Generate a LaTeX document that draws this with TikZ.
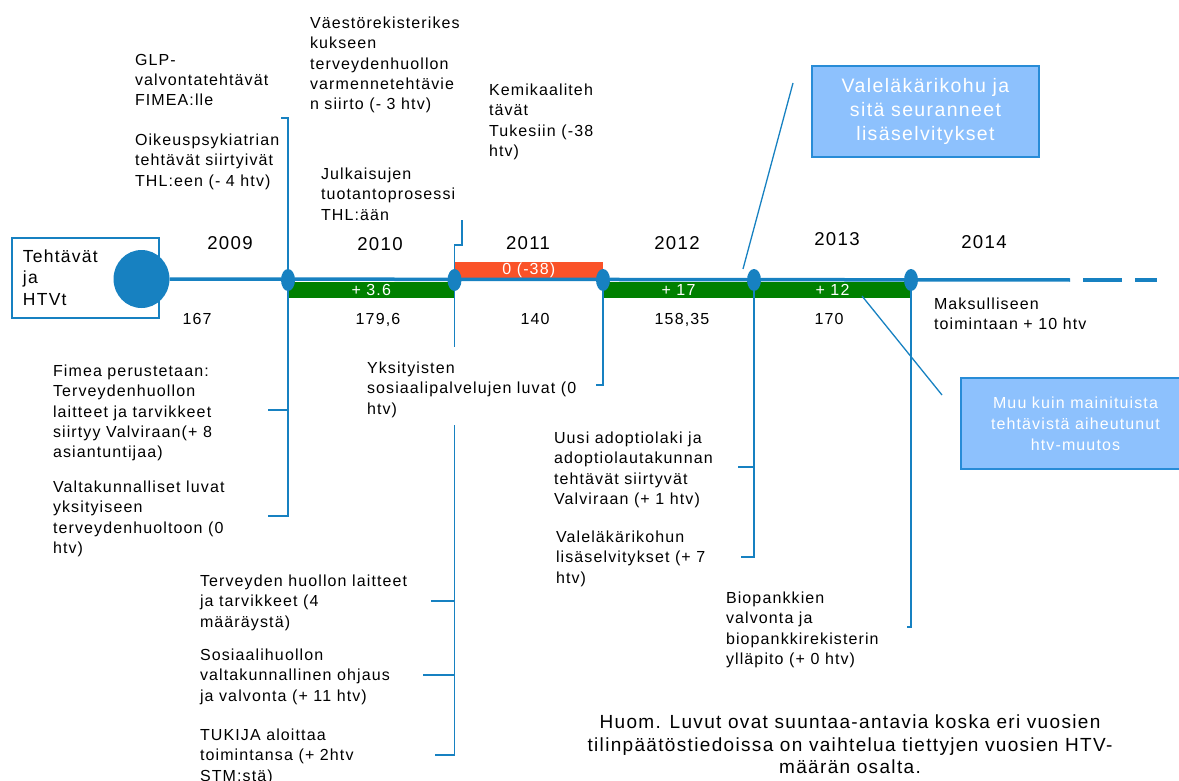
\documentclass[tikz,border=0pt]{standalone}
\usepackage{fontspec}
\setmainfont{Liberation Sans}[LetterSpace=7]
\usetikzlibrary{shapes.geometric}
\definecolor{tlblue}{RGB}{23,129,193}
\definecolor{boxfill}{RGB}{141,193,253}
\definecolor{boxline}{RGB}{40,140,215}
\definecolor{bargreen}{RGB}{0,128,0}
\definecolor{barred}{RGB}{250,82,40}
\newcommand\fsz[2]{\fontsize{#1}{#2}\selectfont}
\begin{document}
\begin{tikzpicture}[x=1pt,y=-1pt,
  lbl/.style={anchor=north west, align=left, inner sep=0, outer sep=0, font=\fsz{16}{20.3}},
  yr/.style={anchor=base, inner sep=0, font=\fsz{18.6}{22}},
  val/.style={anchor=base, inner sep=0, font=\fsz{16}{20}},
  conn/.style={draw=tlblue, line width=1.8},
  tl/.style={draw=tlblue, line width=3.5},
  dotn/.style={ellipse, fill=tlblue, minimum width=14, minimum height=22, inner sep=0},
  barn/.style={minimum height=16, inner sep=0, text=white, font=\fsz{16}{16}},
  callout/.style={draw=boxline, line width=1.5, fill=boxfill, text=white, align=center, inner sep=0}
]
\useasboundingbox (0,0) rectangle (1179,781);

% left box
\node[draw=tlblue, line width=2, minimum width=147, minimum height=80, anchor=north west, inner sep=0] (hbox) at (11,237) {};
\node[lbl, font=\fsz{17.5}{21.5}] (htext) at (23,249.5) {Tehtävät\\ja\\HTVt};

% bars
\node[barn, fill=bargreen, minimum width=166.5] (g1) at (371.25,290) {+ 3.6};
\node[barn, fill=barred, minimum width=148.5] (r1) at (528.75,270) {0 (-38)};
\node[barn, fill=bargreen, minimum width=151] (g2) at (678.5,290) {+ 17};
\node[barn, fill=bargreen, minimum width=157] (g3) at (832.5,290) {+ 12};

% dots and circle
\node[ellipse, fill=tlblue, minimum width=56, minimum height=58, inner sep=0] (c0) at (141.5,279) {};
\coordinate (n1) at (288,280);
\coordinate (n2) at (454.5,280);
\coordinate (n3) at (603,280);
\coordinate (n4) at (754,280);
\coordinate (n5) at (911,280);

% timeline
\coordinate (t1) at (1070,280);
\coordinate (t2) at (1083,280);
\coordinate (t3) at (1122,280);
\coordinate (t4) at (1135,280);
\coordinate (t5) at (1157,280);
\draw[tl] (c0.east) -- (t1);
\draw[tl] (t2) -- (t3);
\draw[tl] (t4) -- (t5);

% connectors
\coordinate (v1top) at (288,118);
\coordinate (v1hk) at (281,118);
\draw[conn] (n1) -- (v1top) -- (v1hk);
\coordinate (v1bot) at (288,516);
\coordinate (v1h1) at (268,410);
\coordinate (v1h2) at (268,516);
\draw[conn] (n1) -- (v1bot) -- (v1h2);
\draw[conn] (v1h1) -- (v1h1 -| n1);

\coordinate (v2a) at (454.5,245);
\coordinate (v2b) at (462,245);
\coordinate (v2c) at (462,220);
\draw[conn] (n2) -- (v2a) -- (v2b) -- (v2c);
\coordinate (v2d) at (454.5,347);
\draw[conn] (n2) -- (v2d);
\coordinate (v2e) at (454.5,425);
\coordinate (v2f) at (454.5,755);
\coordinate (v2g) at (435,755);
\coordinate (v2h1) at (431,601);
\coordinate (v2h2) at (423,675);
\draw[conn] (v2e) -- (v2f) -- (v2g);
\draw[conn] (v2h1) -- (v2h1 -| n2);
\draw[conn] (v2h2) -- (v2h2 -| n2);

\coordinate (v3a) at (603,385);
\coordinate (v3b) at (596,385);
\draw[conn] (n3) -- (v3a) -- (v3b);

\coordinate (v4a) at (754,557);
\coordinate (v4b) at (741,557);
\coordinate (v4h) at (738,467);
\draw[conn] (n4) -- (v4a) -- (v4b);
\draw[conn] (v4h) -- (v4h -| n4);

\coordinate (v5a) at (911,627);
\coordinate (v5b) at (907,627);
\draw[conn] (n5) -- (v5a) -- (v5b);

% dots on top
\foreach \n in {n1,n2,n3,n4,n5} \node[dotn] (d\n) at (\n) {};

% callouts
\node[callout, minimum width=227, minimum height=91, font=\fsz{19.5}{24}] (ca) at (925.5,111.5) {Valeläkärikohu ja\\sitä seuranneet\\lisäselvitykset};
\node[callout, minimum width=229, minimum height=91, font=\fsz{16}{21}] (cb) at (1075.5,423.5) {Muu kuin mainituista\\tehtävistä aiheutunut\\htv-muutos};
\coordinate (pa1) at (743,269);
\coordinate (pa2) at (793,83);
\draw[conn, line width=1.3] (pa1) -- (pa2);
\coordinate (pb1) at (862,296);
\coordinate (pb2) at (942,395);
\draw[conn, line width=1.3] (pb1) -- (pb2);

% years
\node[yr] (y09) at (230,250) {2009};
\node[yr] (y10) at (380,251) {2010};
\node[yr] (y11) at (528,250) {2011};
\node[yr] (y12) at (677,250) {2012};
\node[yr] (y13) at (837,245) {2013};
\node[yr] (y14) at (984,248) {2014};

% values
\node[val] (a09) at (197,324) {167};
\node[val] (a10) at (378,324) {179,6};
\node[val] (a11) at (535,324) {140};
\node[val] (a12) at (682,324) {158,35};
\node[val] (a13) at (829,324) {170};

% texts
\node[lbl] (tglp) at (135,54) {GLP-\\valvontatehtävät\\FIMEA:lle};
\node[lbl] (toik) at (135,134) {Oikeuspsykiatrian\\tehtävät siirtyivät\\THL:een (- 4 htv)};
\node[lbl] (tvae) at (310,17) {Väestörekisterikes\\kukseen\\terveydenhuollon\\varmennetehtävie\\n siirto (- 3 htv)};
\node[lbl] (tkem) at (489,84) {Kemikaaliteh\\tävät\\Tukesiin (-38\\htv)};
\node[lbl] (tjul) at (321,168) {Julkaisujen\\tuotantoprosessi\\THL:ään};
\node[lbl] (tfim) at (53,365) {Fimea perustetaan:\\Terveydenhuollon\\laitteet ja tarvikkeet\\siirtyy Valviraan(+ 8\\asiantuntijaa)};
\node[lbl] (tval) at (53,481) {Valtakunnalliset luvat\\yksityiseen\\terveydenhuoltoon (0\\htv)};
\node[lbl] (tyks) at (367,362) {Yksityisten\\sosiaalipalvelujen luvat (0\\htv)};
\node[lbl] (tter) at (200,575) {Terveyden huollon laitteet\\ja tarvikkeet (4\\määräystä)};
\node[lbl] (tsos) at (200,649) {Sosiaalihuollon\\valtakunnallinen ohjaus\\ja valvonta (+ 11 htv)};
\node[lbl] (ttuk) at (200,729) {TUKIJA aloittaa\\toimintansa (+ 2htv\\STM:stä)};
\node[lbl] (tuus) at (554,432) {Uusi adoptiolaki ja\\adoptiolautakunnan\\tehtävät siirtyvät\\Valviraan (+ 1 htv)};
\node[lbl] (tvlk) at (556,531) {Valeläkärikohun\\lisäselvitykset (+ 7\\htv)};
\node[lbl] (tbio) at (726,592) {Biopankkien\\valvonta ja\\biopankkirekisterin\\ylläpito (+ 0 htv)};
\node[lbl] (tmak) at (934,298) {Maksulliseen\\toimintaan + 10 htv};
\node[anchor=north, align=center, inner sep=0, font=\fsz{19}{22.5}] (thuom) at (850,715) {Huom. Luvut ovat suuntaa-antavia koska eri vuosien\\tilinpäätöstiedoissa on vaihtelua tiettyjen vuosien HTV-\\määrän osalta.};
\end{tikzpicture}
\end{document}
